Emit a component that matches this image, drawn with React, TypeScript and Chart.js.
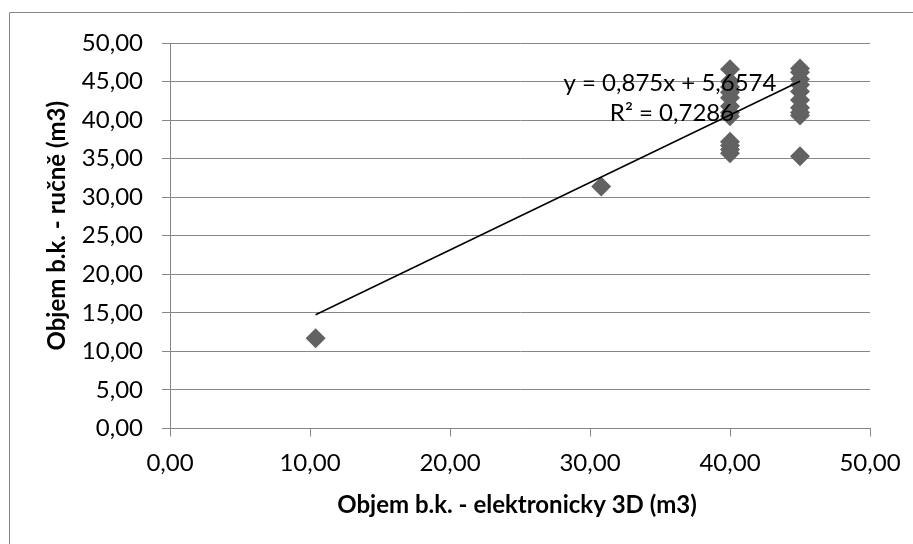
import React, { useEffect, useRef } from "react";
import { Chart, registerables } from "chart.js";

Chart.register(...registerables);

// ---- data ----
const xValues: number[] = [
  10.4, 30.8,
  40, 40, 40, 40, 40, 40, 40, 40, 40, 40, 40, 40,
  45, 45, 45, 45, 45, 45, 45, 45, 45, 45,
];
const yValues: number[] = [
  11.7, 31.4,
  46.6, 45.0, 44.3, 43.6, 42.9, 41.8, 41.0, 40.5, 37.2, 36.7, 36.2, 35.7,
  46.7, 46.2, 45.3, 44.6, 43.7, 42.6, 41.6, 41.0, 40.6, 35.3,
];
const SLOPE = 0.875;
const INTERCEPT = 5.6574;
const R2 = 0.7286;

const X_MIN = 0;
const X_MAX = 50;
const X_STEP = 10;
const Y_MIN = 0;
const Y_MAX = 50;
const Y_STEP = 5;

const X_TITLE = "Objem b.k. - elektronicky 3D (m3)";
const Y_TITLE = "Objem b.k. - ručně (m3)";
const fmt = (v: number, d: number) => v.toFixed(d).replace(".", ",");
const EQ_LABEL = `y = ${fmt(SLOPE, 3)}x + ${fmt(INTERCEPT, 4)}`;
const R2_LABEL = `R² = ${fmt(R2, 4)}`;

const FONT = "Lato, 'Open Sans', sans-serif";

export default function App() {
  const ref = useRef<HTMLCanvasElement | null>(null);

  useEffect(() => {
    if (!ref.current) return;
    const points = xValues.map((x, i) => ({ x, y: yValues[i] }));
    const xLo = Math.min(...xValues);
    const xHi = Math.max(...xValues);
    const trend = [
      { x: xLo, y: SLOPE * xLo + INTERCEPT },
      { x: xHi, y: SLOPE * xHi + INTERCEPT },
    ];

    const decor = {
      id: "decor",
      beforeDraw(chart: any) {
        const ctx = chart.ctx;
        ctx.save();
        ctx.fillStyle = "#ffffff";
        ctx.fillRect(0, 0, chart.width, chart.height);
        ctx.strokeStyle = "#868686";
        ctx.lineWidth = 1;
        ctx.beginPath();
        ctx.moveTo(9.5, chart.height + 2);
        ctx.lineTo(9.5, 12.5);
        ctx.lineTo(chart.width + 2, 12.5);
        ctx.stroke();
        ctx.restore();
      },
      afterDraw(chart: any) {
        const ctx = chart.ctx;
        const ca = chart.chartArea;
        ctx.save();
        ctx.fillStyle = "#000000";
        ctx.textAlign = "center";
        ctx.textBaseline = "middle";
        ctx.font = `bold 24px ${FONT}`;
        ctx.fillText(X_TITLE, (ca.left + ca.right) / 2 - 3, 505);
        ctx.save();
        ctx.translate(57, (ca.top + ca.bottom) / 2 - 10);
        ctx.rotate(-Math.PI / 2);
        ctx.fillText(Y_TITLE, 0, 0);
        ctx.restore();
        ctx.font = `24px ${FONT}`;
        ctx.fillText(EQ_LABEL, 670, 83);
        ctx.fillText(R2_LABEL, 672, 113);
        ctx.restore();
      },
    };

    const chart = new Chart(ref.current, {
      type: "scatter",
      data: {
        datasets: [
          {
            type: "line",
            label: "trend",
            data: trend,
            borderColor: "#000000",
            borderWidth: 1.5,
            pointRadius: 0,
            fill: false,
            order: 0,
          } as any,
          {
            type: "scatter",
            label: "data",
            data: points,
            pointStyle: "rectRot",
            pointRadius: 10,
            pointBackgroundColor: "#626262",
            pointBorderColor: "#626262",
            pointBorderWidth: 0,
            order: 1,
          } as any,
        ],
      },
      options: {
        animation: false,
        responsive: false,
        devicePixelRatio: 1,
        layout: { padding: { left: 0, top: 43, right: 43, bottom: 0 } },
        plugins: {
          legend: { display: false },
          tooltip: { enabled: false },
        },
        scales: {
          x: {
            type: "linear",
            min: X_MIN,
            max: X_MAX,
            afterFit: (s: any) => {
              s.height = 115.5;
            },
            ticks: {
              stepSize: X_STEP,
              padding: 12,
              color: "#000000",
              font: { family: FONT, size: 24 },
              callback: (v: any) => fmt(Number(v), 2),
            },
            grid: {
              drawOnChartArea: false,
              drawTicks: true,
              tickLength: 8,
              color: "#868686",
            },
            border: { display: true, color: "#868686", width: 1 },
          },
          y: {
            type: "linear",
            min: Y_MIN,
            max: Y_MAX,
            afterFit: (s: any) => {
              s.width = 170;
            },
            ticks: {
              stepSize: Y_STEP,
              padding: 19,
              color: "#000000",
              font: { family: FONT, size: 24 },
              callback: (v: any) => fmt(Number(v), 2),
            },
            grid: {
              drawOnChartArea: true,
              drawTicks: true,
              tickLength: 8,
              color: "#868686",
            },
            border: { display: true, color: "#868686", width: 1 },
          },
        },
      },
      plugins: [decor],
    } as any);

    return () => chart.destroy();
  }, []);

  return (
    <div style={{ position: "fixed", left: 0, top: 0, width: 913, height: 544, overflow: "hidden", background: "#fff" }}>
      <canvas ref={ref} width={913} height={544} style={{ display: "block", width: 913, height: 544 }} />
    </div>
  );
}
